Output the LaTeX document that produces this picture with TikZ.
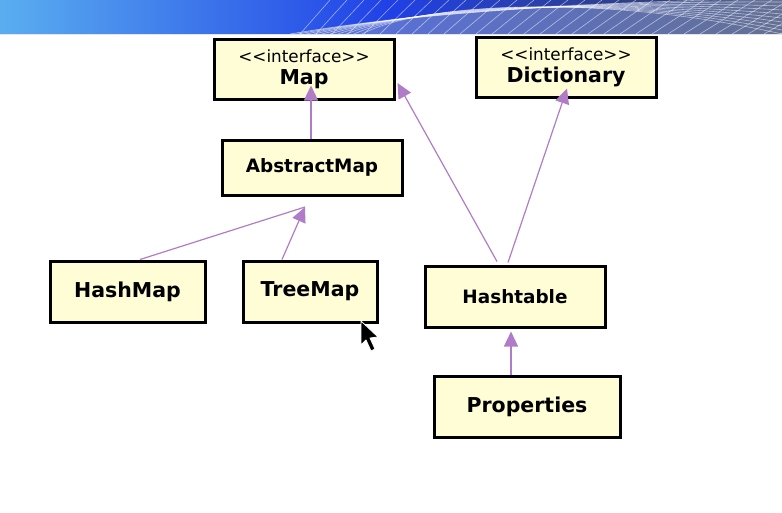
\documentclass[tikz,border=0pt]{standalone}
\usepackage{fontspec}
\setmainfont{DejaVu Sans}
\usetikzlibrary{arrows.meta}
\definecolor{boxfill}{HTML}{FEFDD6}
\definecolor{inhcol}{HTML}{B07CC8}
\definecolor{bannerA}{HTML}{5AAEF0}
\definecolor{bannerB}{HTML}{2040E6}
\definecolor{bannerC}{HTML}{8090C8}
\definecolor{bannerD}{HTML}{3A4048}
\tikzset{
  cls/.style={draw=black, line width=3pt, fill=boxfill, rectangle, align=center, inner sep=0pt},
  bigname/.style={font=\fontsize{20.5}{22}\selectfont\bfseries},
  midname/.style={font=\fontsize{18.4}{20}\selectfont\bfseries},
  iface/.style={font=\fontsize{16.8}{24}\selectfont},
  inh/.style={draw=inhcol, line width=1.2pt, -{Triangle[length=15pt,width=14pt,fill=inhcol]}},
  plain/.style={draw=inhcol, line width=1.2pt},
  gridln/.style={draw=white, opacity=0.55, line width=0.6pt}
}
\newcommand{\stereo}{{<}{<}interface{>}{>}}
\begin{document}
\begin{tikzpicture}[x=1pt,y=-1pt]
\useasboundingbox (0,0) rectangle (782,512);
\fill[white] (0,0) rectangle (782,512);
% banner
\shade[left color=bannerA, right color=bannerD, middle color=bannerB] (0,0) rectangle (782,34);
\begin{scope}
\clip (0,0) rectangle (782,34);
\fill[bannerC, opacity=0.6] (290,34) .. controls (420,10) and (600,0) .. (782,0) -- (782,34) -- cycle;
\foreach \i in {0,...,9} {
  \draw[gridln] (290+\i*8,34) .. controls (420,{12-\i}) and (600,{2-\i}) .. (782,{-2+\i*4});
}
\foreach \i in {0,...,30} {
  \draw[gridln] ({300+\i*16},34) -- ({330+\i*17},0);
}
\end{scope}
\draw[white!80!gray, line width=1pt] (0,34.5) -- (782,34.5);

% classes
\node[cls, iface, minimum width=180pt, minimum height=60pt] (map) at (304,69)
  {\raisebox{-2pt}{\stereo}\\{\fontsize{20.5}{24}\selectfont\bfseries Map}};
\node[cls, iface, minimum width=180pt, minimum height=60pt] (dict) at (566,67)
  {\raisebox{-2pt}{\stereo}\\{\fontsize{20.5}{24}\selectfont\bfseries Dictionary}};
\node[cls, midname, minimum width=180pt, minimum height=55pt] (abs) at (312,167.5) {AbstractMap};
\node[cls, bigname, minimum width=155pt, minimum height=61pt] (hm) at (127.5,291.5) {HashMap};
\node[cls, bigname, minimum width=134pt, minimum height=61pt] (tm) at (310,291.5) {TreeMap};
\node[cls, midname, minimum width=180pt, minimum height=61pt] (ht) at (515,296.5) {Hashtable};
\node[cls, bigname, minimum width=186pt, minimum height=61pt] (pr) at (527,406.5) {Properties};

% inheritance connectors
\coordinate (abstip) at (305,207);
\draw[inh] ([xshift=-1pt]abs.north) -- ([xshift=7pt,yshift=15pt]map.south);
\draw[plain] ([xshift=12.5pt]hm.north) -- (abstip);
\draw[inh] ([xshift=-28pt]tm.north) -- (abstip);
\draw[inh] ([xshift=-18pt,yshift=3pt]ht.north) -- ([xshift=2pt,yshift=-14pt]map.east);
\draw[inh] ([xshift=-7pt,yshift=2pt]ht.north) -- ([xshift=1pt,yshift=10pt]dict.south);
\draw[inh] ([xshift=-16pt]pr.north) -- ([xshift=-4pt,yshift=-3pt]ht.south);

% mouse cursor
\filldraw[fill=black, draw=white, line width=0.8pt, line join=round]
  (361,321) -- (361,345) -- (366,340) -- (371,351) -- (375,349) -- (370,338) -- (378,337) -- cycle;
\end{tikzpicture}
\end{document}
